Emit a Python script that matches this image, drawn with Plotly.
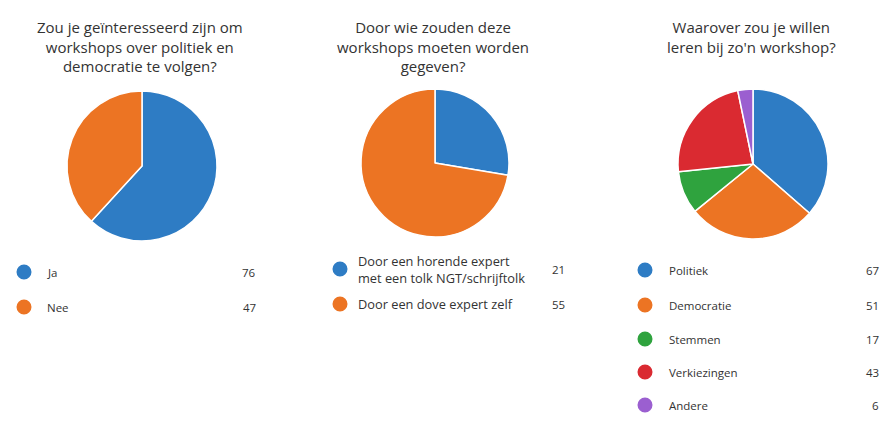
import plotly.graph_objects as go

W, H = 883, 422

# ---- data ----
title1 = "Zou je geïnteresseerd zijn om<br>workshops over politiek en<br>democratie te volgen?"
labels1 = ["Ja", "Nee"]
values1 = [76, 47]

title2 = "Door wie zouden deze<br>workshops moeten worden<br>gegeven?"
labels2 = ["Door een horende expert<br>met een tolk NGT/schrijftolk", "Door een dove expert zelf"]
values2 = [21, 55]

title3 = "Waarover zou je willen<br>leren bij zo'n workshop?"
labels3 = ["Politiek", "Democratie", "Stemmen", "Verkiezingen", "Andere"]
values3 = [67, 51, 17, 43, 6]

colors = ["#2E7CC4", "#EC7423", "#2FA33E", "#DA2A31", "#9B5FD0"]

FONT = "Open Sans"
TXT = "#333333"

fig = go.Figure()

def px_x(x):
    return x / W

def px_y(y):
    return 1 - y / H

pies = [
    dict(labels=labels1, values=values1, cx=142, cy=166, r=75, title=title1, ty=47,
         lx=24, tx=45, vx=258, rows=[272, 307], fs=11.5),
    dict(labels=labels2, values=values2, cx=435, cy=163, r=74, title=title2, ty=47,
         lx=340, tx=356, vx=567, rows=[269, 304], fs=12.8),
    dict(labels=labels3, values=values3, cx=753, cy=164, r=75, title=title3, ty=37,
         lx=645, tx=667, vx=881, rows=[270, 305, 339, 372, 405], fs=11.5),
]

shapes = []
annotations = []
for p in pies:
    n = len(p["labels"])
    fig.add_trace(go.Pie(
        labels=[l.replace("<br>", " ") for l in p["labels"]],
        values=p["values"],
        sort=False,
        direction="clockwise",
        rotation=0,
        textinfo="none",
        hoverinfo="label+value",
        marker=dict(colors=colors[:n], line=dict(color="white", width=1.5)),
        domain=dict(x=[px_x(p["cx"] - p["r"]), px_x(p["cx"] + p["r"])],
                    y=[px_y(p["cy"] + p["r"]), px_y(p["cy"] - p["r"])]),
        showlegend=False,
    ))
    annotations.append(dict(
        text=p["title"], x=px_x(p["cx"] - 2), y=px_y(p["ty"]), xref="paper", yref="paper",
        xanchor="center", yanchor="middle", showarrow=False, align="center",
        font=dict(family=FONT, size=15, color=TXT),
    ))
    for i, (lab, val) in enumerate(zip(p["labels"], p["values"])):
        ry = p["rows"][i]
        shapes.append(dict(
            type="circle", xref="paper", yref="paper",
            x0=px_x(p["lx"] - 7.5), x1=px_x(p["lx"] + 7.5),
            y0=px_y(ry + 7.5), y1=px_y(ry - 7.5),
            fillcolor=colors[i], line=dict(width=0),
        ))
        annotations.append(dict(
            text=lab, x=px_x(p["tx"]), y=px_y(ry), xref="paper", yref="paper",
            xanchor="left", yanchor="middle", showarrow=False, align="left",
            font=dict(family=FONT, size=p["fs"], color=TXT),
        ))
        annotations.append(dict(
            text=str(val), x=px_x(p["vx"]), y=px_y(ry), xref="paper", yref="paper",
            xanchor="right", yanchor="middle", showarrow=False,
            font=dict(family=FONT, size=11.5, color=TXT),
        ))

fig.update_layout(
    width=W, height=H,
    margin=dict(l=0, r=0, t=0, b=0),
    paper_bgcolor="white", plot_bgcolor="white",
    shapes=shapes, annotations=annotations,
    showlegend=False,
)

fig.write_html("out.html", config={"displayModeBar": False},
               post_script="document.body.style.margin='0';document.body.style.overflow='hidden';")
